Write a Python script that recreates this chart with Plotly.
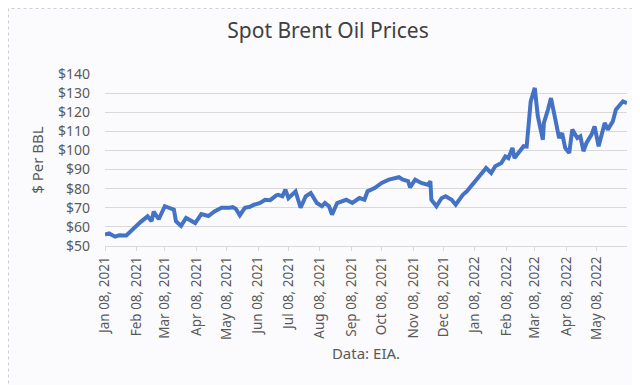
import plotly.graph_objects as go

dates = [
    "2021-01-08", "2021-01-12", "2021-01-18", "2021-01-22", "2021-01-29", "2021-02-02",
    "2021-02-08", "2021-02-12", "2021-02-19", "2021-02-23", "2021-02-25", "2021-03-02",
    "2021-03-08", "2021-03-12", "2021-03-17", "2021-03-19", "2021-03-24", "2021-03-29",
    "2021-04-02", "2021-04-07", "2021-04-13", "2021-04-20", "2021-04-26", "2021-05-03",
    "2021-05-11", "2021-05-14", "2021-05-17", "2021-05-21", "2021-05-26", "2021-05-31",
    "2021-06-04", "2021-06-10", "2021-06-15", "2021-06-20", "2021-06-26", "2021-06-28",
    "2021-07-02", "2021-07-05", "2021-07-08", "2021-07-15", "2021-07-20", "2021-07-25",
    "2021-07-30", "2021-08-05", "2021-08-10", "2021-08-13", "2021-08-17", "2021-08-20",
    "2021-08-25", "2021-09-03", "2021-09-09", "2021-09-16", "2021-09-21", "2021-09-24",
    "2021-10-01", "2021-10-08", "2021-10-15", "2021-10-25", "2021-10-29", "2021-11-03",
    "2021-11-05", "2021-11-10", "2021-11-16", "2021-11-19", "2021-11-23", "2021-11-25",
    "2021-11-26", "2021-12-01", "2021-12-06", "2021-12-10", "2021-12-13", "2021-12-16",
    "2021-12-20", "2021-12-27", "2021-12-31", "2022-01-07", "2022-01-14", "2022-01-19",
    "2022-01-24", "2022-01-28", "2022-02-03", "2022-02-07", "2022-02-10", "2022-02-14",
    "2022-02-16", "2022-02-21", "2022-02-25", "2022-02-28", "2022-03-02", "2022-03-03",
    "2022-03-04", "2022-03-08", "2022-03-10", "2022-03-11", "2022-03-16", "2022-03-17",
    "2022-03-21", "2022-03-24", "2022-03-28", "2022-04-01", "2022-04-04", "2022-04-07",
    "2022-04-11", "2022-04-14", "2022-04-19", "2022-04-22", "2022-04-25", "2022-04-28",
    "2022-05-03", "2022-05-06", "2022-05-10", "2022-05-16", "2022-05-19", "2022-05-24",
    "2022-05-27", "2022-06-01", "2022-06-03", "2022-06-07",
]
prices = [
    56.0, 56.6, 54.9, 55.6, 55.5, 57.5,
    61.2, 62.5, 65.5, 63.0, 68.0, 64.0,
    70.8, 70.0, 69.0, 63.0, 60.5, 64.7,
    63.5, 62.0, 66.7, 65.7, 68.1, 70.0,
    70.0, 70.3, 69.5, 66.1, 70.0, 70.5,
    71.6, 72.5, 74.2, 74.0, 76.5, 76.8,
    76.0, 79.5, 75.0, 78.6, 70.0, 76.0,
    77.7, 72.5, 70.8, 72.5, 70.8, 66.4,
    72.5, 74.2, 72.5, 75.1, 74.2, 78.6,
    80.3, 83.0, 84.7, 86.0, 84.7, 83.9,
    80.7, 84.7, 83.0, 82.5, 82.0, 83.9,
    74.2, 70.8, 75.0, 76.0, 75.0, 74.2,
    71.6, 76.8, 78.6, 83.0, 88.2, 90.8,
    88.2, 91.7, 93.4, 96.9, 96.0, 101.3,
    96.0, 99.6, 102.2, 102.0, 115.2, 119.6,
    125.7, 132.7, 119.6, 117.9, 105.6, 114.4,
    121.3, 127.4, 117.0, 106.5, 109.1, 101.3,
    98.7, 110.9, 106.5, 107.4, 99.6, 103.9,
    108.3, 112.6, 102.2, 114.4, 110.9, 115.2,
    121.3, 124.0, 125.7, 124.8,
]
y_ticks = [50, 60, 70, 80, 90, 100, 110, 120, 130, 140]
y_tick_labels = ["$" + str(v) for v in y_ticks]

FONT = "Noto Sans"
TXT = "#595959"
GRID = "#d9d9d9"
BG = "#fbfbfd"

W, H = 640, 385
ML, MR, MT, MB = 97, 21, 66, 147
PW, PH = W - ML - MR, H - MT - MB

fig = go.Figure()
fig.add_trace(go.Scatter(
    x=dates, y=prices, mode="lines",
    line=dict(color="#4472c4", width=4),
    hoverinfo="x+y", showlegend=False,
))

fig.update_layout(
    width=W, height=H,
    margin=dict(l=ML, r=MR, t=MT, b=MB),
    paper_bgcolor=BG, plot_bgcolor=BG,
    font=dict(family=FONT, color=TXT, size=13),
    title=dict(text="Spot Brent Oil Prices", x=0.5, xanchor="center",
               y=1 - 23 / H, yanchor="middle",
               font=dict(family=FONT, size=21, color="#404040")),
    xaxis=dict(
        type="date", automargin=False,
        range=["2021-01-08", "2022-06-07"],
        tick0="2021-01-08", dtick="M1", tickformat="%b %d, %Y",
        tickangle=-90, ticks="outside", ticklen=4, tickcolor=GRID,
        showline=True, linecolor=GRID, linewidth=1,
        showgrid=False, zeroline=False,
        tickfont=dict(family=FONT, size=13.5, color=TXT),
        title=dict(text="Data: EIA.", font=dict(family=FONT, size=15, color=TXT),
                   standoff=9),
    ),
    yaxis=dict(
        range=[50, 140], tickvals=y_ticks, ticktext=y_tick_labels,
        automargin=False,
        showgrid=True, gridcolor=GRID, gridwidth=1,
        zeroline=False, showline=False, ticks="",
        ticklabelstandoff=14,
        tickfont=dict(family=FONT, size=14, color=TXT),
        title=dict(text="$ Per BBL", font=dict(family=FONT, size=15, color=TXT),
                   standoff=10),
    ),
    shapes=[dict(
        type="rect", xref="paper", yref="paper", layer="below",
        x0=(0.5 - ML) / PW, x1=(W - 0.5 - ML) / PW,
        y0=-(H - 0.5 - MT - PH) / PH, y1=(MT + PH - 0.5) / PH,
        line=dict(color="#d0d0d0", width=1, dash="dot"),
        fillcolor="rgba(0,0,0,0)",
    )],
)

fig.write_html("out.html")
